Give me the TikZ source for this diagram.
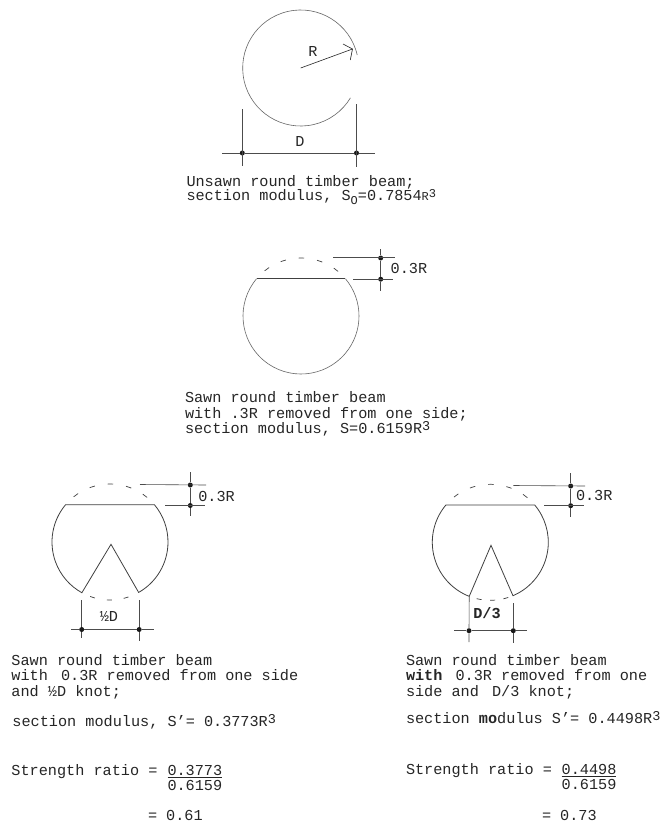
\documentclass[tikz,border=0pt]{standalone}
\usepackage{fontspec}
\setmainfont{Liberation Mono}[Ligatures=ResetAll]
\newcommand{\cubed}{\raisebox{3pt}{\fontsize{13.5}{13.5}\selectfont 3}}
\tikzset{
  x=1pt,y=-1pt,
  txt/.style={anchor=base west,inner sep=0pt,outer sep=0pt,text=black!85,font=\fontsize{15.2}{16}\selectfont},
  lab/.style={anchor=center,inner sep=0pt,outer sep=0pt,text=black!85,font=\fontsize{15.2}{16}\selectfont},
  outline/.style={draw=black!75,line width=0.8pt,line join=miter},
  arcline/.style={draw=black!60,line width=0.6pt},
  dim/.style={draw=black!70,line width=0.6pt},
  dot/.style={circle,fill=black!90,draw=none,minimum size=5pt,inner sep=0pt},
  hidden/.style={draw=black!75,line width=0.7pt},
  rad/.style={radius=58pt},
}
\begin{document}
\begin{tikzpicture}
\useasboundingbox (0,0) rectangle (662,825);
\fill[white] (0,0) rectangle (662,825);

% ---- Figure 1: unsawn
\coordinate (c1) at (300.7,68);
\draw[arcline] (c1) ++(13:58pt) arc[start angle=13,end angle=329,rad];
\coordinate (tip1) at (352.5,49);
\coordinate (barbA) at (343,44);
\coordinate (barbB) at (350.3,60);
\draw[dim,draw=black!85] (c1) -- (tip1);
\draw[dim,draw=black!85] (barbA) -- (tip1) -- (barbB);
\node[lab] (labR) at (313,51) {R};
\node[dot] (d1a) at (242.3,153) {};
\node[dot] (d1b) at (356.5,153) {};
\coordinate (e1a) at (242.3,109); \coordinate (e1b) at (242.3,166);
\coordinate (e1c) at (356.5,104); \coordinate (e1d) at (356.5,167);
\coordinate (e1e) at (222,153);   \coordinate (e1f) at (375,153);
\draw[dim] (e1a) -- (e1b);
\draw[dim] (e1c) -- (e1d);
\draw[dim] (e1e) -- (d1a) -- (d1b) -- (e1f);
\node[lab] (labD) at (300,141) {D};
\node[txt] (t1a) at (186.5,186) {Unsawn round timber beam;};
\node[txt] (t1b) at (186.5,200.5) {section modulus, S\raisebox{-3.5pt}{\fontsize{12}{12}\selectfont O}=0.7854{\fontsize{12}{12}\selectfont R}\raisebox{3.5pt}{\fontsize{12}{12}\selectfont 3}};

% ---- Figure 2: sawn
\coordinate (c2) at (301,316);
\path (c2) +(140:58pt) coordinate (a2) +(40:58pt) coordinate (b2);
\draw[arcline] (a2) arc[start angle=140,end angle=400,rad];
\draw[outline] (a2) -- (b2);
\draw[hidden,dash pattern=on 5.5pt off 13pt] (c2) ++(128.8:58pt) arc[start angle=128.8,end angle=50,rad];
\node[dot] (d2a) at (380.7,258) {};
\node[dot] (d2b) at (380.7,279.2) {};
\coordinate (e2a) at (333,257.5); \coordinate (e2b) at (395,257.5);
\coordinate (e2c) at (353.3,279.2); \coordinate (e2d) at (393,279.2);
\coordinate (e2e) at (380.7,249); \coordinate (e2f) at (380.7,291);
\draw[dim] (e2a) -- (e2b);
\draw[dim] (e2c) -- (e2d);
\draw[dim] (e2e) -- (d2a) -- (d2b) -- (e2f);
\node[txt,anchor=west] (lab2) at (390.7,268) {0.3R};
\node[txt] (t2a) at (185,402.7) {Sawn round timber beam};
\node[txt] (t2b) at (185,418.3) {with .3R removed from one side;};
\node[txt] (t2c) at (185,433.5) {section modulus, S=0.6159R\cubed};

% ---- Figure 3: half D knot
\coordinate (c3) at (110,542);
\path (c3) +(140:58pt) coordinate (a3) +(40:58pt) coordinate (b3)
  +(241:58pt) coordinate (k3l) +(299.6:58pt) coordinate (k3r);
\coordinate (apex3) at (111,544.3);
\draw[outline] (a3) arc[start angle=140,end angle=241,rad] -- (apex3) -- (k3r)
  arc[start angle=299.6,end angle=400,rad] -- cycle;
\draw[hidden,dash pattern=on 5.5pt off 13pt] (c3) ++(128.8:58pt) arc[start angle=128.8,end angle=50,rad];
\draw[hidden,dash pattern=on 5pt off 12pt] (c3) ++(250:58pt) arc[start angle=250,end angle=289,rad];
\node[dot] (d3a) at (190.3,485) {};
\node[dot] (d3b) at (190.3,505.5) {};
\coordinate (e3a) at (140,484.5); \coordinate (e3b) at (206,485);
\coordinate (e3c) at (165,505.5); \coordinate (e3d) at (205,505.5);
\coordinate (e3e) at (190.3,472); \coordinate (e3f) at (190.3,516);
\draw[dim] (e3a) -- (e3b);
\draw[dim] (e3c) -- (e3d);
\draw[dim] (e3e) -- (d3a) -- (d3b) -- (e3f);
\node[txt,anchor=west] (lab3) at (198.3,496) {0.3R};
\node[dot] (d3c) at (81.7,629.5) {};
\node[dot] (d3d) at (139.2,629.5) {};
\coordinate (e3g) at (81.7,600); \coordinate (e3h) at (81.7,637.7);
\coordinate (e3i) at (139.2,600); \coordinate (e3j) at (139.2,641);
\coordinate (e3k) at (71.3,629.5); \coordinate (e3l) at (154,629.5);
\draw[dim] (e3g) -- (d3c) -- (e3h);
\draw[dim] (e3i) -- (d3d) -- (e3j);
\draw[dim] (e3k) -- (d3c) -- (d3d) -- (e3l);
\node[lab] (lab3b) at (109,616.5) {½D};
\node[txt] (t3a) at (11.5,665) {Sawn round timber beam};
\node[txt] (t3b) at (11.5,680.7) {with\hspace{4pt} 0.3R removed from one side};
\node[txt] (t3c) at (11.5,696.7) {and ½D knot;};
\node[txt] (t3d) at (12.5,726) {section modulus, S'= 0.3773R\cubed};
\node[txt] (t3e) at (11.5,775) {Strength ratio = };
\node[txt] (f3n) at (167.5,775) {0.3773};
\node[txt] (f3d) at (167.5,790) {0.6159};
\draw[dim,draw=black!85] (f3n.base west) ++(0,2.5) coordinate (b3l) -- (f3n.base east |- b3l);
\node[txt] (t3f) at (148,820.7) {= 0.61};

% ---- Figure 4: D/3 knot
\coordinate (c4) at (490.3,542.3);
\path (c4) +(140:58pt) coordinate (a4) +(40:58pt) coordinate (b4)
  +(248.7:58pt) coordinate (k4l) +(293:58pt) coordinate (k4r);
\coordinate (apex4) at (491,545.3);
\draw[outline] (a4) arc[start angle=140,end angle=248.7,rad] -- (apex4) -- (k4r)
  arc[start angle=293,end angle=400,rad] -- cycle;
\draw[hidden,dash pattern=on 5.5pt off 13pt] (c4) ++(128.8:58pt) arc[start angle=128.8,end angle=50,rad];
\draw[hidden,dash pattern=on 5pt off 8.5pt] (c4) ++(256.4:58pt) arc[start angle=256.4,end angle=288,rad];
\node[dot] (d4a) at (570.7,486) {};
\node[dot] (d4b) at (570.7,505.7) {};
\coordinate (e4a) at (513.3,485.5); \coordinate (e4b) at (585,486);
\coordinate (e4c) at (544.3,505.7); \coordinate (e4d) at (584,505.7);
\coordinate (e4e) at (570.7,473); \coordinate (e4f) at (570.7,517);
\draw[dim] (e4a) -- (e4b);
\draw[dim] (e4c) -- (e4d);
\draw[dim] (e4e) -- (d4a) -- (d4b) -- (e4f);
\node[txt,anchor=west] (lab4) at (576,495) {0.3R};
\node[dot] (d4c) at (469,630.7) {};
\node[dot] (d4d) at (513.3,630.7) {};
\coordinate (e4g) at (513.3,603); \coordinate (e4h) at (513.3,643);
\coordinate (e4i) at (469,642); \coordinate (e4k) at (454.3,630.7); \coordinate (e4l) at (526.7,630.7);
\draw[dim] (k4l) -- (d4c) -- (e4i);
\draw[dim] (e4g) -- (d4d) -- (e4h);
\draw[dim] (e4k) -- (d4c) -- (d4d) -- (e4l);
\node[lab,font=\fontsize{15.2}{16}\selectfont\bfseries] (lab4b) at (487,613) {D/3};
\node[txt] (t4a) at (406,665) {Sawn round timber beam};
\node[txt] (t4b) at (406,680.7) {\textbf{with}\hspace{4pt} 0.3R removed from one};
\node[txt] (t4c) at (406,696.7) {side and\hspace{4pt} D/3 knot;};
\node[txt] (t4d) at (406,723.3) {section \textbf{mo}dulus S'= 0.4498R\cubed};
\node[txt] (t4e) at (406,774) {Strength ratio = };
\node[txt] (f4n) at (561.7,774) {0.4498};
\node[txt] (f4d) at (561.7,789) {0.6159};
\draw[dim,draw=black!85] (f4n.base west) ++(0,2.5) coordinate (b4l) -- (f4n.base east |- b4l);
\node[txt] (t4f) at (542,820) {= 0.73};
\end{tikzpicture}
\end{document}
